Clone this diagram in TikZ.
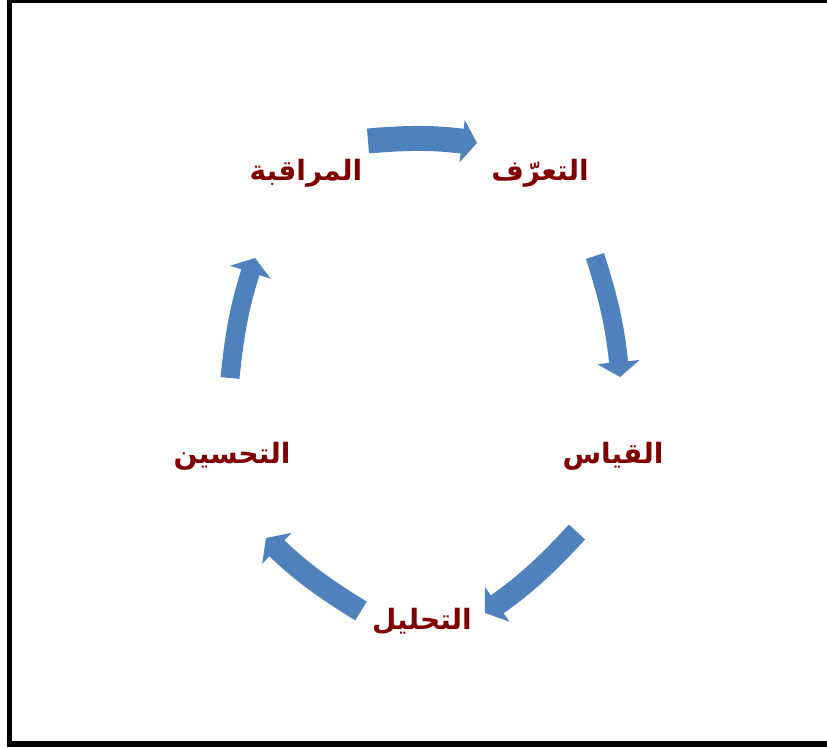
\documentclass[tikz,border=0pt]{standalone}
\usepackage{fontspec}
\newfontfamily\arabicfont[Script=Arabic]{DejaVu Sans}
\TeXXeTstate=1
\usetikzlibrary{arrows.meta}
\definecolor{cycblue}{RGB}{79,129,189}
\definecolor{stagered}{RGB}{128,0,0}
\tikzset{
  stage/.style={text=stagered, font=\arabicfont\bfseries\fontsize{28}{32}\selectfont, inner sep=0pt},
  cycarrow/.style={cycblue, line width=22pt, -{Triangle[length=15pt,width=42pt]}, bend left=6},
  boxline/.style={black},
}

\begin{document}
\begin{tikzpicture}[x=1pt,y=1pt]
  \useasboundingbox (0,0) rectangle (827,747);

  % frame
  \draw[boxline, line width=2.7pt] (6.7,745.65) -- (827,745.65);
  \draw[boxline, line width=5.3pt] (9.35,0) -- (9.35,747);
  \draw[boxline, line width=6.3pt] (6.7,3.15) -- (827,3.15);

  \node[stage] (taaruf) at (540,574) {\beginR التعرّف\endR};
  \node[stage] (qiyas) at (613,291) {\beginR القياس\endR};
  \node[stage] (tahlil) at (422,126) {\beginR التحليل\endR};
  \node[stage] (tahsin) at (232,291) {\beginR التحسين\endR};
  \node[stage] (muraqaba) at (306,574) {\beginR المراقبة\endR};

  \coordinate (a1) at (368,606);
  \coordinate (b1) at (477,604);
  \coordinate (a2) at (595,491);
  \coordinate (b2) at (620,370);
  \coordinate (a3) at (577,215);
  \coordinate (b3) at (485,134);
  \coordinate (a4) at (361,136);
  \coordinate (b4) at (266,209);
  \coordinate (a5) at (230,369);
  \coordinate (b5) at (255,489);

  \draw[cycarrow, line width=25pt] (a1) to (b1);
  \draw[cycarrow, line width=19pt] (a2) to (b2);
  \draw[cycarrow] (a3) to (b3);
  \draw[cycarrow] (a4) to (b4);
  \draw[cycarrow, line width=19pt] (a5) to (b5);
\end{tikzpicture}
\end{document}
